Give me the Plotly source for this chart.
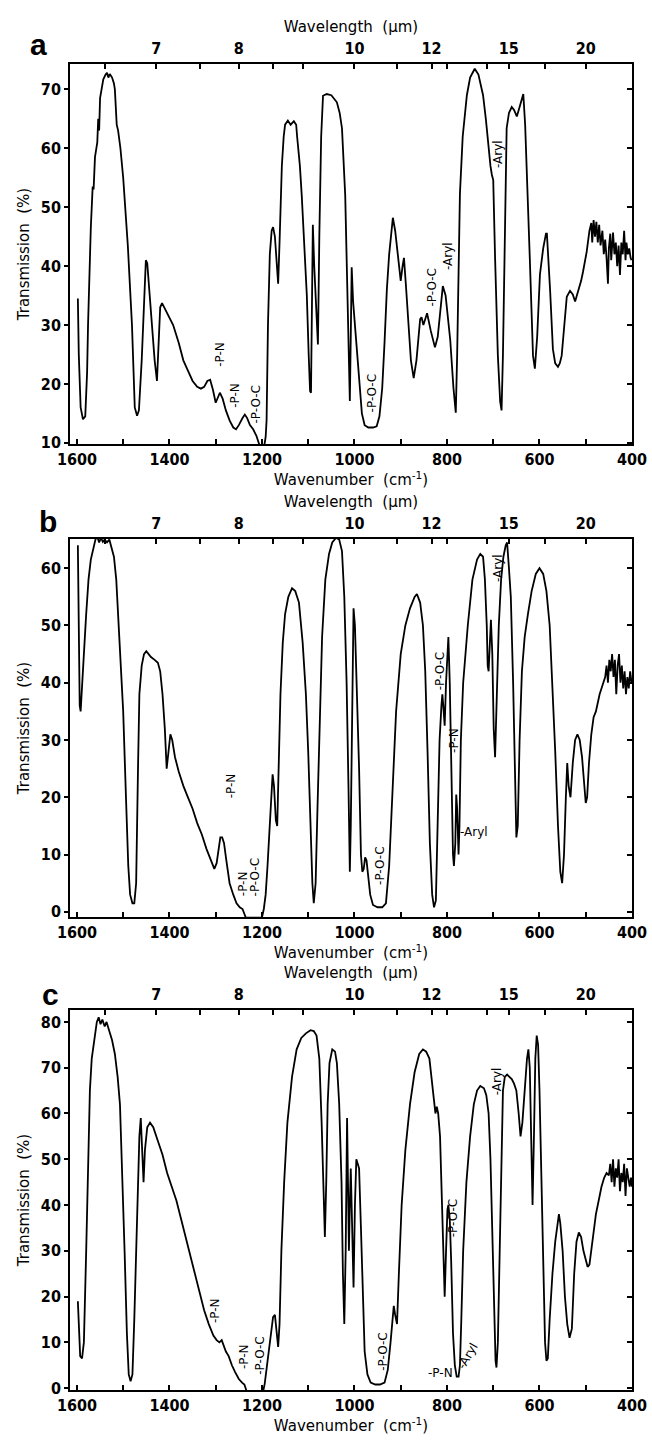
import plotly.graph_objects as go

W, H = 652, 1444

# ---------------- data (wavenumber cm-1, transmission %) ----------------
wn_a = [1598,1596,1592,1587,1582,1578,1576,1572,1570,1566,1564,1561,1556,1554,1552,1550,1546,1543,1538,1535,1532,1529,1524,1520,1518,1514,1511,1506,1500,1490,1481,1475,1470,1466,1460,1455,1451,1448,1444,1438,1432,1427,1424,1420,1416,1410,1400,1392,1380,1370,1362,1350,1340,1332,1325,1318,1312,1306,1300,1295,1291,1285,1278,1270,1262,1256,1250,1242,1237,1232,1226,1219,1212,1205,1195,1192,1190,1187,1183,1179,1176,1172,1168,1165,1162,1157,1153,1150,1144,1138,1131,1126,1124,1118,1114,1108,1103,1099,1096,1094,1092,1090,1087,1083,1079,1076,1072,1068,1060,1050,1038,1032,1027,1020,1016,1012,1010,1008,1006,1003,999,994,988,984,978,970,960,952,946,940,935,930,925,917,912,906,900,896,893,889,884,878,872,866,858,855,851,847,843,835,826,820,815,809,803,797,793,786,781,778,776,772,766,757,750,740,732,722,716,711,706,703,700,696,690,685,682,679,675,671,666,660,655,649,643,638,635,631,628,624,621,614,610,605,599,592,586,584,580,577,571,566,560,556,552,548,541,534,528,523,515,510,506,498,492,488,486,483,480,477,474,471,468,464,461,458,455,452,450,447,445,441,438,435,432,429,426,423,420,417,414,412,409,406,403,401]
tr_a = [34.5,25,16,14,14.5,22,30,42,46.5,53.5,53,58.5,61,65,63,68.5,70.5,71.7,72.5,72.8,72,72.6,72,71,70,64,63,60,55,43.5,30,16,14.6,15.5,24,33,41,40.5,36,30,24,20.5,25,33,33.7,32.8,31.3,30,27,24,22.6,20.5,19.5,19.2,19.5,20.5,20.7,19,16.8,17.8,18.5,17.5,15.5,13.8,12.6,12.3,13,14.2,14.8,14.2,13,12.3,11.2,9.5,9.5,11,13.8,30,42,46,46.6,45,40,37,44,57,62,64,64.7,64,64.6,64,62,57,52,43,35,25,18.8,18.5,30,47,40,32.5,26.7,45,62,68.9,69.2,69,67.8,66,63.4,52,36,22,17.1,28,39.8,34,30.3,25,19.3,15,13,12.6,12.6,12.8,14.5,19.3,27,36,42,48.2,46,41.4,37.5,40,41.4,37,30.3,24,21,24,31,31.3,30,31,32,29,26.2,28,32.5,36.6,35,31,27.5,19.3,15.1,25,35.8,52.3,62,69,72,73.5,72.5,69,65,60.6,57,55.5,54.6,41.4,24.8,17,15.5,25,47,63.4,66,67,66.5,65.4,67,68.5,69.2,64,58,50,41.4,24.8,22.6,28,38.6,43,45.5,45.5,41,35.8,25.9,23.5,22.9,23.5,24.8,28,34.8,35.8,35.2,34,36,37.5,39,42.4,46,47.3,44,47.8,45,47.5,44,47,43.5,46,42,44.5,41.4,37,43,45.5,41,45.7,42,44,40,43.5,38.5,44,42,46,41,44,42,43,41.4,41]

wn_b = [1598,1596,1594,1592,1589,1585,1580,1575,1570,1565,1560,1556,1552,1548,1544,1540,1535,1530,1525,1520,1515,1508,1500,1494,1489,1485,1480,1476,1472,1468,1465,1460,1455,1450,1445,1440,1432,1425,1420,1415,1410,1406,1402,1398,1394,1388,1380,1370,1360,1350,1340,1330,1320,1310,1303,1298,1294,1290,1286,1282,1277,1270,1262,1255,1248,1242,1235,1200,1196,1192,1188,1184,1180,1177,1174,1170,1167,1164,1160,1155,1150,1143,1135,1128,1120,1112,1105,1100,1095,1091,1088,1084,1080,1075,1070,1063,1055,1048,1040,1033,1027,1022,1017,1013,1010,1008,1005,1002,999,995,990,986,983,980,977,974,971,966,960,950,940,932,925,918,910,900,890,880,870,865,858,852,847,842,837,832,828,824,820,816,812,810,808,805,802,799,797,794,790,787,785,782,780,778,775,773,770,765,755,745,735,728,722,718,714,712,710,707,705,702,699,696,693,688,683,678,673,670,666,662,657,653,650,647,643,638,632,625,617,608,600,592,585,578,572,566,560,555,551,547,543,540,537,533,528,523,518,513,508,504,500,497,493,488,483,478,473,470,466,462,458,455,452,449,446,443,440,437,434,431,428,425,422,419,416,413,410,407,404,401]
tr_b = [64,50,36,35,40,45,52,58,61.5,63.5,65,65.5,64.5,65.3,64.6,65,64.5,65,63.5,62,58,48,35,20,8,3,1.5,1.5,5,25,38,43,45,45.5,45,44.5,44,43.5,42,38,32,25,28,31,30,27,24.5,22,20,18,15.5,13.5,11,9,7.5,8.5,11,13,13,12,9,5,3,1.5,0.8,0.5,-1,-1,0.5,3,8,14,20,24,22,16,15,25,38,47,52,55,56.5,56,54,47,38,28,15,5,1.5,5,18,35,48,58,62.5,64.5,65.3,65,63,55,40,22,7,15,40,53,50,40,25,10,7,7.5,9.5,9,6.5,3,1.2,0.8,0.8,1.5,8,22,35,45,50,53,55,55.5,54,50,42,28,12,3,0.8,2,15,30,36,38,36,32.5,40,46,48,40,22,10,8,12,20.5,18,10,15,30,40,50,58,61.5,62.5,62,58,50,43,42,50,51,45,32,27,35,50,58,62,64,64.5,60,55,40,20,13,15,30,42,48,52,56,59,60,59,56,50,40,28,15,7,5,10,20,26,22,20,26,30,31,30,27,22,19,20,26,31,34,35,37,38,39,40,41,43,40,44,42,45,41,44,38,43,45,40,43,39,42,38,41,39,42,40]

wn_c = [1598,1596,1593,1589,1585,1580,1576,1572,1568,1562,1557,1553,1549,1545,1540,1536,1530,1524,1518,1512,1507,1502,1497,1492,1488,1484,1480,1476,1470,1465,1462,1459,1456,1453,1448,1442,1435,1425,1415,1405,1395,1385,1375,1365,1355,1345,1335,1325,1315,1305,1298,1292,1287,1283,1278,1272,1265,1258,1250,1243,1238,1232,1198,1194,1190,1185,1180,1176,1172,1168,1165,1162,1158,1152,1145,1135,1125,1115,1105,1095,1088,1082,1076,1071,1067,1064,1061,1058,1054,1048,1042,1038,1033,1028,1025,1022,1019,1016,1014,1012,1010,1008,1005,1002,999,996,993,990,986,982,978,972,965,955,945,935,928,922,918,915,912,908,904,898,890,880,870,860,852,845,838,832,828,825,822,819,815,811,807,805,802,799,797,794,791,787,783,779,775,772,769,765,758,750,742,735,728,720,715,710,706,702,698,695,693,690,686,682,679,675,670,665,660,655,650,645,641,637,632,627,624,621,618,615,612,609,606,603,600,596,592,588,585,582,578,572,566,561,558,555,550,545,540,535,530,525,520,515,510,505,500,496,492,488,484,478,472,466,460,455,450,447,444,441,438,435,432,429,426,423,420,417,414,411,408,405,402,400]
tr_c = [19,12,7,6.5,10,30,50,65,72,77,80,81,79.5,80.5,79,80,78,76,73,68,62,48,30,12,3,1.5,3,15,40,55,59,50,45,52,57,58,57,54,51,47,44,41,37,33,29,25,21,17,14,11.5,10.5,10,10.5,9.5,8,7,5,3.5,2,1.2,0.8,-1,-1,1,4,8,12,15.5,16,12,9,14,30,45,58,68,74,76.5,77.5,78.2,78,77,72,58,40,33,45,62,71,74,73.5,71,62,45,25,14,30,59,45,30,40,48,35,22,40,50,49,48,35,20,8,3,1.2,0.8,0.8,1.2,4,10,14,18,16,14,25,40,52,62,69,73,74,73.5,72,66,62,60,61.5,60,55,40,25,20,30,39,40,37,28,12,5,2.5,2.5,5,15,30,45,55,62,65,66,65.5,64,60,50,35,15,6,4.5,10,30,55,65,68,68.5,68,67.5,66.5,65,60,55,58,66,72,74,70,55,40,55,72,77,75,65,45,25,10,6,6.5,15,25,32,36,38,36,30,20,14,11,13,25,32,34,33,30,28,26.5,27,30,33,38,41,44,46,47,46.5,49,45,50,44,48,46,50,43,47,45,49,42,48,46,44,46,44]

# band labels: (wavenumber, transmission, text, angle)
lab_a = [(1290, 25, "-P-N", -90), (1258, 18, "-P-N", -90), (1213, 16.5, "-P-O-C", -90),
         (962, 18.4, "-P-O-C", -90), (832, 36.4, "-P-O-C", -90), (798, 41.7, "-Aryl", -90),
         (690, 59, "-Aryl", -90)]
lab_b = [(1268, 22, "-P-N", -90), (1241, 5, "-P-N", -90), (1213, 6, "-P-O-C", -90),
         (945, 8, "-P-O-C", -90), (815, 42, "-P-O-C", -90), (785, 30, "-P-N", -90),
         (690, 60, "-Aryl", -90), (742, 14, "-Aryl", 0)]
lab_c = [(1300, 17, "-P-N", -90), (1239, 7, "-P-N", -90), (1205, 7, "-P-O-C", -90),
         (940, 8, "-P-O-C", -90), (788, 37, "-P-O-C", -90), (815, 3.3, "-P-N", 0),
         (755, 7, "-Aryl", -60), (690, 67, "-Aryl", -90)]

# axis ticks
wl_major = [7, 8, 10, 12, 15, 20]          # micrometres
wl_minor = [6.5, 7.5, 8.5, 9, 11, 12.5, 14, 17]
wn_major = [1600, 1400, 1200, 1000, 800, 600, 400]
wn_minor = [1500, 1300, 1100, 900, 700, 500]
y_ticks = {"a": [10, 20, 30, 40, 50, 60, 70], "b": [0, 10, 20, 30, 40, 50, 60],
           "c": [0, 10, 20, 30, 40, 50, 60, 70, 80]}
y_range = {"a": [9.8, 74.3], "b": [-0.9, 65.1], "c": [-0.4, 82.6]}

# ---------------- layout geometry (pixels) ----------------
X0, X1 = 70, 632
panels = {"a": (64, 444), "b": (539, 917), "c": (1010, 1390)}
letters = {"a": (38, 45), "b": (48, 521), "c": (50, 994)}
data = {"a": (wn_a, tr_a, lab_a), "b": (wn_b, tr_b, lab_b), "c": (wn_c, tr_c, lab_c)}

TICKFONT = dict(family="Liberation Sans Narrow, DejaVu Sans Condensed, Arial Narrow, sans-serif",
                size=16, color="black", weight="bold")
TITLEFONT = dict(family="DejaVu Sans, Liberation Sans, sans-serif", size=15, color="black")
LABFONT = dict(family="DejaVu Sans, Liberation Sans, sans-serif", size=12, color="black")

fig = go.Figure()
xr = [1615, 400]
layout = dict(width=W, height=H, margin=dict(l=0, r=0, t=0, b=0, autoexpand=False),
              paper_bgcolor="white", plot_bgcolor="white", showlegend=False)

for i, key in enumerate(["a", "b", "c"]):
    top, bot = panels[key]
    ydom = [1 - bot / H, 1 - top / H]
    xdom = [X0 / W, X1 / W]
    n = 2 * i + 1
    xb, xt, yl, yr = f"x{n if n > 1 else ''}", f"x{n+1}", f"y{n if n > 1 else ''}", f"y{n+1}"
    xbk = "xaxis" + (str(n) if n > 1 else "")
    ybk = "yaxis" + (str(n) if n > 1 else "")
    wn, tr, labs = data[key]
    fig.add_trace(go.Scatter(x=wn, y=tr, mode="lines", xaxis=xb, yaxis=yl,
                             line=dict(color="black", width=1.8), hoverinfo="skip"))
    # placeholder traces (outside the view) so the overlay axes are drawn
    fig.add_trace(go.Scatter(x=[1000], y=[-100], mode="lines", xaxis=xt, yaxis=yl,
                             line=dict(width=0), hoverinfo="skip"))
    fig.add_trace(go.Scatter(x=[1000], y=[-100], mode="lines", xaxis=xb, yaxis=yr,
                             line=dict(width=0), hoverinfo="skip"))
    layout[xbk] = dict(domain=xdom, anchor=yl, range=xr, showline=True, mirror=True, automargin=False,
                       linecolor="black", linewidth=1.8, ticks="inside", ticklen=5,
                       tickwidth=1.5, tickcolor="black", tickvals=wn_major,
                       tickfont=TICKFONT, showgrid=False, zeroline=False,
                       minor=dict(tickvals=wn_minor, ticks="inside",
                                  ticklen=5, tickwidth=1.5, tickcolor="black", showgrid=False),
                       title=dict(text="Wavenumber  (cm<sup>-1</sup>)", font=TITLEFONT, standoff=2))
    layout[f"xaxis{n+1}"] = dict(overlaying=xb, anchor=yl, side="top", range=xr, showline=False,
                                 automargin=False, ticklabelstandoff=6,
                                 ticks="inside", ticklen=5, tickwidth=1.5, tickcolor="black",
                                 tickvals=[10000 / v for v in wl_major],
                                 ticktext=[str(v) for v in wl_major], tickfont=TICKFONT,
                                 showgrid=False, zeroline=False,
                                 minor=dict(tickvals=[10000 / v for v in wl_minor], ticks="inside",
                                            ticklen=5, tickwidth=1.5, tickcolor="black", showgrid=False),
                                 title=dict(text="Wavelength  (μm)", font=TITLEFONT, standoff=2))
    layout[ybk] = dict(domain=ydom, anchor=xb, range=y_range[key], showline=True, mirror=True,
                       automargin=False,
                       linecolor="black", linewidth=1.8, ticks="outside", ticklen=4, tickwidth=1.5,
                       tickcolor="black", tickvals=y_ticks[key], tickfont=TICKFONT,
                       showgrid=False, zeroline=False,
                       title=dict(text="Transmission  (%)", font=TITLEFONT, standoff=8))
    layout[f"yaxis{n+1}"] = dict(overlaying=yl, anchor=xb, side="right", range=y_range[key],
                                 automargin=False,
                                 showline=False, ticks="inside", ticklen=5, tickwidth=1.5,
                                 tickcolor="black", tickvals=y_ticks[key], showticklabels=False,
                                 showgrid=False, zeroline=False)
    for (lx, ly, txt, ang) in labs:
        fig.add_annotation(x=lx, y=ly, xref=xb, yref=yl, text=txt, textangle=ang,
                           showarrow=False, font=LABFONT)
    lxp, lyp = letters[key]
    fig.add_annotation(x=lxp / W, y=1 - lyp / H, xref="paper", yref="paper", text=f"<b>{key}</b>",
                       xanchor="center", yanchor="middle", showarrow=False,
                       font=dict(family="Liberation Sans, Arial, sans-serif", size=30, color="black"))

fig.update_layout(**layout)
fig.write_html("out.html", config={"displayModeBar": False},
               post_script="document.body.style.margin='0';")
